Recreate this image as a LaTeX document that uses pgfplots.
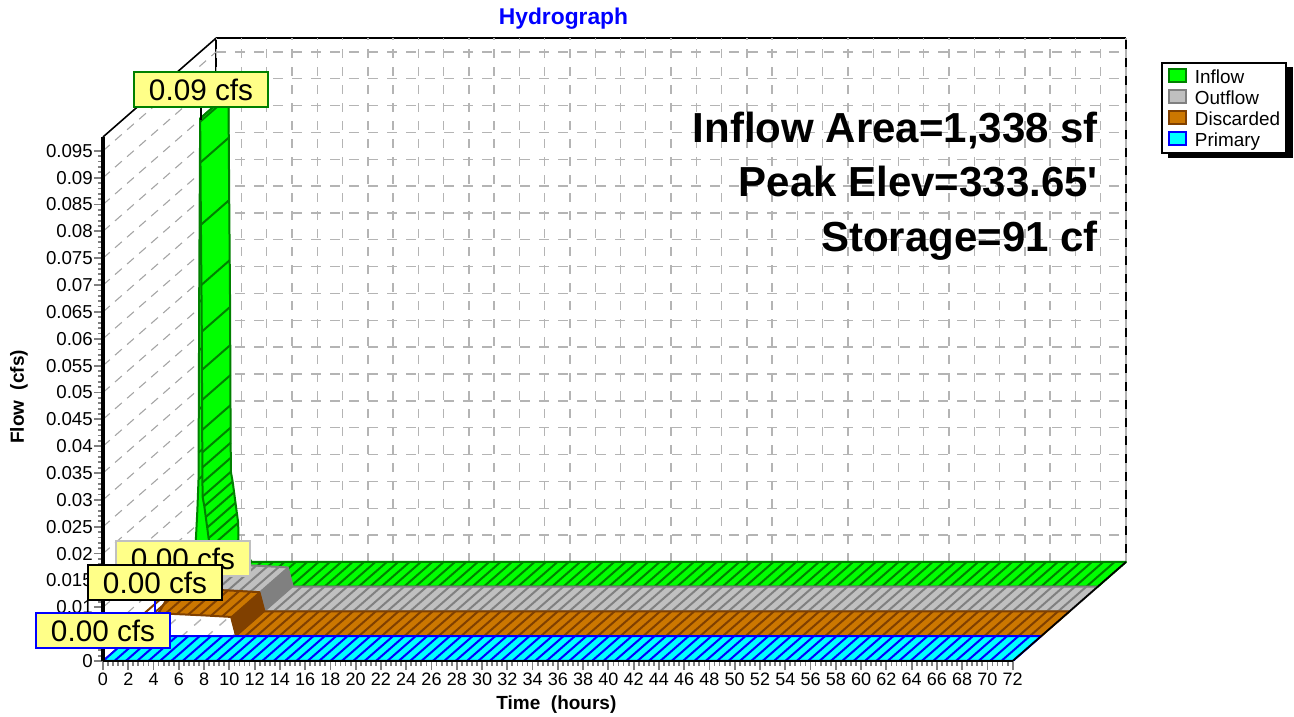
\documentclass[border=0pt]{standalone}
\usepackage{fontspec}
\setmainfont{Liberation Sans}
\newfontfamily\plainsans{Liberation Sans}
\usepackage{pgfplots}
\usepackage{pgfplotstable}
\pgfplotsset{compat=1.18}
\definecolor{gridg}{RGB}{180,180,180}
\definecolor{wallg}{RGB}{165,165,165}
\definecolor{tickg}{RGB}{128,128,128}
\definecolor{cInflow}{RGB}{0,255,0}
\definecolor{dInflow}{RGB}{0,128,0}
\definecolor{cOut}{RGB}{192,192,192}
\definecolor{dOut}{RGB}{128,128,128}
\definecolor{cDisc}{RGB}{204,119,0}
\definecolor{dDisc}{RGB}{128,64,0}
\definecolor{cPrim}{RGB}{0,255,255}
\definecolor{dPrim}{RGB}{0,0,255}
\definecolor{labely}{RGB}{255,255,136}
% flow gridline levels (cfs)
\pgfplotstableread[row sep=\\]{
n z\\ 1 0.005\\ 2 0.01\\ 3 0.015\\ 4 0.02\\ 5 0.025\\ 6 0.03\\ 7 0.035\\ 8 0.04\\ 9 0.045\\ 10 0.05\\ 11 0.055\\ 12 0.06\\ 13 0.065\\ 14 0.07\\ 15 0.075\\ 16 0.08\\ 17 0.085\\ 18 0.09\\ 19 0.095\\
}\levels
% hatch stations: time (h), discharge of each routed series (cfs)
\pgfplotstableread[row sep=\\]{
t q d\\
0.9 0 0.0040\\ 1.8 0 0.0043\\ 2.7 0 0.0042\\ 3.6 0 0.0041\\ 4.5 0 0.0040\\ 5.4 0 0.0039\\ 6.3 0 0.0038\\ 7.2 0 0.0037\\ 8.1 0 0.0018\\
9.0 0 0\\ 9.9 0 0\\ 10.8 0 0\\ 11.7 0 0\\ 12.6 0 0\\ 13.5 0 0\\ 14.4 0 0\\ 15.3 0 0\\ 16.2 0 0\\ 17.1 0 0\\ 18.0 0 0\\
18.9 0 0\\ 19.8 0 0\\ 20.7 0 0\\ 21.6 0 0\\ 22.5 0 0\\ 23.4 0 0\\ 24.3 0 0\\ 25.2 0 0\\ 26.1 0 0\\ 27.0 0 0\\
27.9 0 0\\ 28.8 0 0\\ 29.7 0 0\\ 30.6 0 0\\ 31.5 0 0\\ 32.4 0 0\\ 33.3 0 0\\ 34.2 0 0\\ 35.1 0 0\\ 36.0 0 0\\
36.9 0 0\\ 37.8 0 0\\ 38.7 0 0\\ 39.6 0 0\\ 40.5 0 0\\ 41.4 0 0\\ 42.3 0 0\\ 43.2 0 0\\ 44.1 0 0\\ 45.0 0 0\\
45.9 0 0\\ 46.8 0 0\\ 47.7 0 0\\ 48.6 0 0\\ 49.5 0 0\\ 50.4 0 0\\ 51.3 0 0\\ 52.2 0 0\\ 53.1 0 0\\ 54.0 0 0\\
54.9 0 0\\ 55.8 0 0\\ 56.7 0 0\\ 57.6 0 0\\ 58.5 0 0\\ 59.4 0 0\\ 60.3 0 0\\ 61.2 0 0\\ 62.1 0 0\\ 63.0 0 0\\
63.9 0 0\\ 64.8 0 0\\ 65.7 0 0\\ 66.6 0 0\\ 67.5 0 0\\ 68.4 0 0\\ 69.3 0 0\\ 70.2 0 0\\ 71.1 0 0\\
}\hatchtable
% inflow falling limb stations
\pgfplotstableread[row sep=\\]{
t q\\
0.97 0.0866\\ 0.99 0.0790\\ 1.03 0.0674\\ 1.07 0.0562\\ 1.10 0.0475\\ 1.12 0.0404\\ 1.13 0.0348\\ 1.13 0.0292\\ 1.13 0.0250\\ 1.14 0.0222\\
1.15 0.0194\\ 1.16 0.0168\\ 1.30 0.0150\\ 1.42 0.0130\\ 1.52 0.0110\\ 1.62 0.0090\\ 1.74 0.0073\\ 1.76 0.0041\\ 2.2 0.0020\\ 2.8 0\\
}\inflowfall
\pgfplotsset{
 base3d/.style={
  x={(12.635pt,0pt)}, y={(28.3pt,24.75pt)}, z={(0pt,5370pt)},
  xmin=0,xmax=72,ymin=0,ymax=4,zmin=0,zmax=0.09758,
  at={(103pt,56pt)}, anchor=origin, clip=false,
 },
}
\begin{document}
\begin{tikzpicture}[x=1pt,y=1pt]
\path[use as bounding box] (0,0) rectangle (1294,717);
\fill[black] (1168,559) rectangle (1293,649.5);
% 3-D frame, walls and ribbons
\begin{axis}[base3d,
  axis lines=box,
  axis line style={black,line width=1.6pt},
  xtick={0,2,...,72},
  ytick=\empty,
  ztick=\empty,
  scaled z ticks=false,
  xticklabels={},
  major tick length=0pt,
  xmajorgrids,
  major grid style={draw=gridg,line width=1.4pt,dash pattern=on 9pt off 9pt},
  every axis plot/.append style={mark=none,line join=round},
]
% ---- back wall and left wall gridlines
\addplot3[draw=gridg,line width=1.4pt,dash pattern=on 10pt off 9pt,quiver={u=72,v=0,w=0}] table[x expr=0,y expr=4,z=z] {\levels};
\addplot3[draw=wallg,line width=1.1pt,dash pattern=on 9pt off 7pt,quiver={u=0,v=4,w=0}] table[x expr=0,y expr=0,z=z] {\levels};
% ---- Inflow (depth 3..4)
\addplot3[draw=dInflow,fill=cInflow,line width=2pt] coordinates {
 (0,3,0)(0.5,3,0.0043)(0.63,3,0.0088)(0.75,3,0.0143)(0.84,3,0.0200)(0.90,3,0.0570)(0.97,3,0.0872)
 (0.97,4,0.0872)(0.90,4,0.0570)(0.84,4,0.0200)(0.75,4,0.0143)(0.63,4,0.0088)(0.5,4,0.0043)(0,4,0)(0,3,0)};
\addplot3[draw=dInflow,line width=2pt,quiver={u=0,v=1,w=0}] coordinates {(0.84,3,0.0200)(0.85,3,0.0250)(0.86,3,0.0330)(0.875,3,0.0440)(0.89,3,0.0530)};
\addplot3[draw=dInflow,fill=cInflow,line width=2pt] coordinates {
 (0.97,3,0.0872)(1.03,3,0.0674)(1.10,3,0.0475)(1.13,3,0.0292)(1.16,3,0.0168)(1.30,3,0.0150)(1.74,3,0.0073)(1.76,3,0.0041)(2.8,3,0)(72,3,0)
 (72,4,0)(2.8,4,0)(1.76,4,0.0041)(1.74,4,0.0073)(1.30,4,0.0150)(1.16,4,0.0168)(1.13,4,0.0292)(1.10,4,0.0475)(1.03,4,0.0674)(0.97,4,0.0872)(0.97,3,0.0872)};
\addplot3[draw=dInflow,line width=2pt,quiver={u=0,v=1,w=0}] table[x=t,y expr=3,z=q] {\inflowfall};
\addplot3[draw=dInflow,line width=2pt,quiver={u=0,v=1,w=0},skip coords between index={0}{3}] table[x=t,y expr=3,z=q] {\hatchtable};
% ---- Outflow (depth 2..3)
\addplot3[draw=dOut,fill=cOut,line width=2pt] coordinates {
 (0,2,0)(0.5,2,0.0020)(1,2,0.0043)(2,2,0.0043)(5.6,2,0.0039)(7.9,2,0.0036)(8.3,2,0)(72,2,0)
 (72,3,0)(8.3,3,0)(7.9,3,0.0036)(5.6,3,0.0039)(2,3,0.0043)(1,3,0.0043)(0.5,3,0.0020)(0,3,0)(0,2,0)};
\addplot3[draw=dOut,line width=2pt,quiver={u=0,v=1,w=0}] table[x=t,y expr=2,z=d] {\hatchtable};
\addplot3[draw=dOut,fill=dOut,line width=1pt] coordinates {(7.9,2,0.0036)(8.3,2,0)(8.3,3,0)(7.9,3,0.0036)(7.9,2,0.0036)};
% ---- Discarded (depth 1..2)
\addplot3[draw=dDisc,fill=cDisc,line width=2pt] coordinates {
 (0,1,0)(0.5,1,0.0020)(1,1,0.0043)(2,1,0.0043)(5.6,1,0.0039)(7.9,1,0.0036)(8.3,1,0)(72,1,0)
 (72,2,0)(8.3,2,0)(7.9,2,0.0036)(5.6,2,0.0039)(2,2,0.0043)(1,2,0.0043)(0.5,2,0.0020)(0,2,0)(0,1,0)};
\addplot3[draw=dDisc,line width=2pt,quiver={u=0,v=1,w=0}] table[x=t,y expr=1,z=d] {\hatchtable};
\addplot3[draw=dDisc,fill=dDisc,line width=1pt] coordinates {(7.9,1,0.0036)(8.3,1,0)(8.3,2,0)(7.9,2,0.0036)(7.9,1,0.0036)};
% ---- Primary (depth 0..1)
\addplot3[draw=dPrim,fill=cPrim,line width=2pt] coordinates {(0,0,0)(72,0,0)(72,1,0)(0,1,0)(0,0,0)};
\addplot3[draw=dPrim,line width=2pt,quiver={u=0,v=1,w=0}] table[x=t,y expr=0,z=q] {\hatchtable};
% floor edge in front of the ribbon ends
\addplot3[draw=black,line width=1.6pt] coordinates {(72,0,0)(72,4,0)};
\end{axis}
% 2-D scale on the front plane: ticks, labels and legend
\begin{axis}[
  at={(103pt,56pt)}, anchor=origin, scale only axis, width=909.7pt, height=524pt,
  xmin=0,xmax=72,ymin=0,ymax=0.09758, clip=false,
  axis x line*=bottom, axis y line*=left,
  x axis line style={-,black,line width=2pt},
  y axis line style={-,black,line width=3.5pt},
  xtick={0,2,...,72},
  ytick={0,0.005,0.01,0.015,0.02,0.025,0.03,0.035,0.04,0.045,0.05,0.055,0.06,0.065,0.07,0.075,0.08,0.085,0.09,0.095},
  /pgf/number format/fixed,
  /pgf/number format/precision=3,
  /pgf/number format/assume math mode=true,
  scaled y ticks=false,
  minor x tick num=4, minor y tick num=4,
  tick align=outside,
  major tick length=9pt, minor tick length=5pt,
  every tick/.style={draw=tickg,line width=1.8pt},
  xticklabel style={font=\fontsize{18}{20}\selectfont,inner xsep=0pt,inner ysep=2pt,text height=13pt,text depth=0pt},
  yticklabel style={font=\fontsize{18.7}{20}\selectfont,inner xsep=1pt},
  xlabel={Time\ \ (hours)},
  ylabel={Flow\ \ (cfs)},
  every axis x label/.style={at={(axis description cs:0.4984,-0.084)},anchor=center,font=\bfseries\fontsize{19}{21}\selectfont},
  every axis y label/.style={at={(axis description cs:-0.0923,0.504)},anchor=center,rotate=90,font=\bfseries\fontsize{19}{21}\selectfont},
  legend style={at={(axis description cs:1.1630,1.143)},anchor=north west,
    draw=black,line width=2pt,fill=white,
    font=\fontsize{18.9}{20}\selectfont,
    inner xsep=6pt,inner ysep=3pt,row sep=0pt,
    nodes={inner sep=0pt,text height=17.5pt,text depth=3.5pt},
    /tikz/every odd column/.append style={column sep=8pt}},
  legend cell align=left,
  legend image code/.code={\draw[#1,line width=2pt] (1pt,-5.5pt) rectangle (18pt,7.5pt);},
]
\addlegendimage{draw=dInflow,fill=cInflow}\addlegendentry{Inflow}
\addlegendimage{draw=dOut,fill=cOut}\addlegendentry{Outflow}
\addlegendimage{draw=dDisc,fill=cDisc}\addlegendentry{Discarded}
\addlegendimage{draw=dPrim,fill=cPrim}\addlegendentry{Primary}
\end{axis}
% titles and annotation
\node[anchor=base,inner sep=0pt,font=\bfseries\fontsize{22.8}{24}\selectfont,text=blue] at (563.5,692) {Hydrograph};
\node[anchor=base east,inner sep=0pt,font=\bfseries\fontsize{42}{44}\selectfont] at (1098,574.5) {Inflow Area=1,338 sf};
\node[anchor=base east,inner sep=0pt,font=\plainsans\bfseries\fontsize{42}{44}\selectfont] at (1098,520.3) {Peak Elev=333.65'};
\node[anchor=base east,inner sep=0pt,font=\bfseries\fontsize{42}{44}\selectfont] at (1098,465) {Storage=91 cf};
% leaders and peak labels
\draw[black,line width=2pt] (200.7,609)--(200.7,597);
\draw[dPrim,line width=2pt] (155,117)--(155,105);
\tikzset{peak/.style={fill=labely,line width=2pt,minimum width=134pt,minimum height=35pt,inner sep=0pt,font=\fontsize{29.7}{31}\selectfont}}
\node[peak,draw=dInflow] at (201,627.5) {0.09 cfs};
\node[peak,draw=cOut] at (183,158.5) {0.00 cfs};
\node[peak,draw=black] at (155,134.5) {0.00 cfs};
\node[peak,draw=dPrim] at (103,86.5) {0.00 cfs};
\end{tikzpicture}
\end{document}
